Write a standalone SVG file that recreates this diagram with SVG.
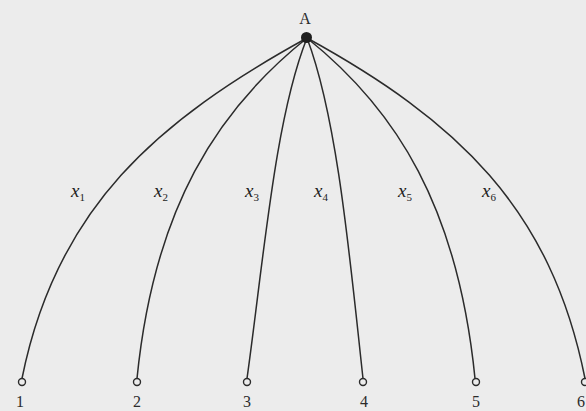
<svg xmlns="http://www.w3.org/2000/svg" width="586" height="411" viewBox="0 0 586 411">
<style>
.edge{fill:none;stroke:#2b2b2b;stroke-width:1.5}
.leaf{fill:#ececec;stroke:#2b2b2b;stroke-width:1.4}
.num{font-family:"Liberation Serif",serif;font-size:16px;fill:#2b2b2b;text-anchor:middle}
.lbl{font-family:"Liberation Serif",serif;font-size:19px;font-style:italic;fill:#222}
.sub{font-size:11px;font-style:normal}
</style>
<rect width="586" height="411" fill="#ececec"/>
<g id="connectors">
<path class="edge" d="M307,38 C157,120.5 56,208 22,378.5"/>
<path class="edge" d="M307,38 C217,110 154,208 137,378.5"/>
<path class="edge" d="M307,38 C275,118 263.8,258 247,378.5"/>
<path class="edge" d="M307,38 C337.4,118 349.8,258 363,378.5"/>
<path class="edge" d="M307,38 C397,110 458,208 475,378.5"/>
<path class="edge" d="M307,38 C457,120.5 551,208 585,378.5"/>
<text class="lbl" x="71" y="197">x<tspan class="sub" dy="4">1</tspan></text>
<text class="lbl" x="154" y="197">x<tspan class="sub" dy="4">2</tspan></text>
<text class="lbl" x="245" y="197">x<tspan class="sub" dy="4">3</tspan></text>
<text class="lbl" x="314" y="197">x<tspan class="sub" dy="4">4</tspan></text>
<text class="lbl" x="398" y="197">x<tspan class="sub" dy="4">5</tspan></text>
<text class="lbl" x="482" y="197">x<tspan class="sub" dy="4">6</tspan></text>
</g>
<g id="A">
<circle cx="306.5" cy="37.5" r="5.5" fill="#1e1e1e"/>
<text class="num" x="305" y="24">A</text>
</g>
<g id="n1"><circle class="leaf" cx="22" cy="382" r="3.5"/><text class="num" x="20" y="407">1</text></g>
<g id="n2"><circle class="leaf" cx="137" cy="382" r="3.5"/><text class="num" x="137" y="407">2</text></g>
<g id="n3"><circle class="leaf" cx="247" cy="382" r="3.5"/><text class="num" x="247" y="407">3</text></g>
<g id="n4"><circle class="leaf" cx="363" cy="382" r="3.5"/><text class="num" x="364" y="407">4</text></g>
<g id="n5"><circle class="leaf" cx="476" cy="382" r="3.5"/><text class="num" x="476" y="407">5</text></g>
<g id="n6"><circle class="leaf" cx="585" cy="382" r="3.5"/><text class="num" x="585" y="407" style="text-anchor:end">6</text></g>
</svg>
